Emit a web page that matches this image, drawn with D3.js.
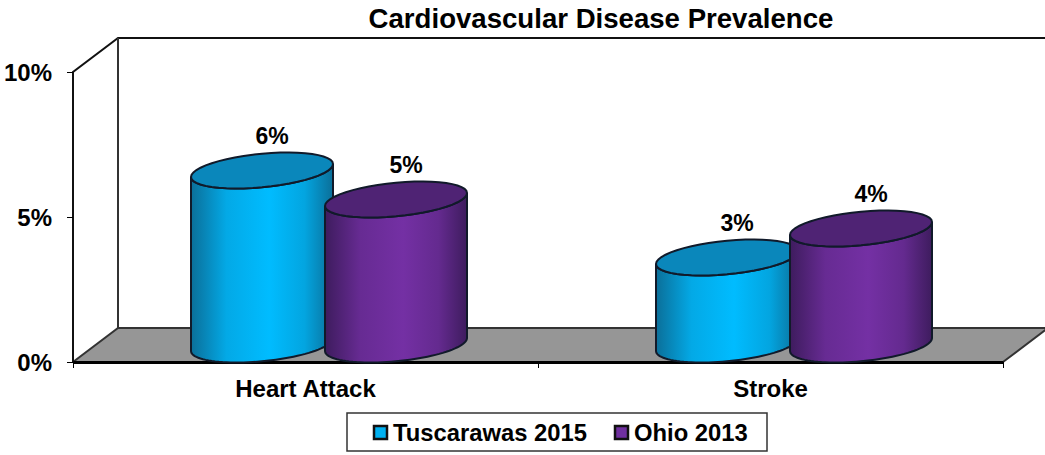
<!doctype html>
<html>

<head>
    <style>
        body { margin: 0; background: #fff; }
        text { font-family: "Liberation Sans", Arial, sans-serif; font-weight: bold; fill: #000; }
    </style>
    <script src="https://d3js.org/d3.v7.min.js"></script>
</head>

<body>
    <svg width="1045" height="455"></svg>
    <script>
        var categories = ["Heart Attack", "Stroke"];
        var seriesNames = ["Tuscarawas 2015", "Ohio 2013"];
        var tuscarawas = [6, 3];
        var ohio = [5, 4];
        var yTicks = [0, 5, 10];

        var seriesValues = [tuscarawas, ohio];
        var colors = [
            { edge: "#0b6f99", mid: "#00bcff", lid: "#0a87bb" },
            { edge: "#3e1c5e", mid: "#7430a4", lid: "#4f2374" }
        ];

        var svg = d3.select("svg");
        var plotLeft = 73, plotRight = 1003, plotBottom = 362, plotTop = 72;
        var depthX = 45, depthY = 34;   // oblique offset of the back wall

        var y = d3.scaleLinear().domain([0, 10]).range([plotBottom, plotTop]);
        var x = d3.scaleBand().domain(categories).range([plotLeft, plotRight]);
        var xEdges = d3.scaleLinear().domain([0, categories.length]).range([plotLeft, plotRight]);
        var xInner = d3.scaleBand().domain(seriesNames).range([-134, 134]);

        // gradients for the cylinder sides
        var defs = svg.append("defs");
        colors.forEach(function (c, i) {
            var grad = defs.append("linearGradient").attr("id", "side" + i);
            grad.append("stop").attr("offset", "0%").attr("stop-color", c.edge);
            grad.append("stop").attr("offset", "25%").attr("stop-color", d3.interpolateRgb(c.edge, c.mid)(0.75));
            grad.append("stop").attr("offset", "55%").attr("stop-color", c.mid);
            grad.append("stop").attr("offset", "80%").attr("stop-color", d3.interpolateRgb(c.edge, c.mid)(0.7));
            grad.append("stop").attr("offset", "100%").attr("stop-color", c.edge);
        });

        // floor
        svg.append("path")
            .attr("d", d3.line()([[plotLeft, plotBottom], [plotLeft + depthX, plotBottom - depthY], [plotRight + depthX, plotBottom - depthY], [plotRight, plotBottom]]))
            .attr("fill", "#969696")
            .attr("stroke", "#333")
            .attr("stroke-width", 2);

        // walls
        svg.append("path")
            .attr("d", d3.line()([[plotLeft, plotBottom], [plotLeft, plotTop], [plotLeft + depthX, plotTop - depthY], [plotRight + depthX, plotTop - depthY]]))
            .attr("fill", "none")
            .attr("stroke", "#111")
            .attr("stroke-width", 2);
        svg.append("line")
            .attr("x1", plotLeft + depthX).attr("x2", plotLeft + depthX)
            .attr("y1", plotTop - depthY).attr("y2", plotBottom - depthY)
            .attr("stroke", "#333")
            .attr("stroke-width", 2);

        // axes
        var yAxis = svg.append("g")
            .attr("transform", "translate(" + plotLeft + ",0)")
            .call(d3.axisLeft(y).tickValues(yTicks).tickSize(6).tickPadding(15).tickFormat(function (d) { return d + "%"; }));
        yAxis.select(".domain").remove();
        yAxis.selectAll("text").style("font-size", "24px").attr("dy", "0.36em");

        var xAxis = svg.append("g")
            .attr("transform", "translate(0," + plotBottom + ")")
            .call(d3.axisBottom(xEdges).tickValues(d3.range(categories.length + 1)).tickSizeInner(6).tickSizeOuter(0).tickFormat(""));
        xAxis.select(".domain").attr("stroke-width", 3);

        var xLabels = svg.append("g")
            .attr("transform", "translate(0," + plotBottom + ")")
            .call(d3.axisBottom(x).tickSize(0).tickPadding(18));
        xLabels.select(".domain").remove();
        xLabels.selectAll("text").style("font-size", "24px");

        // tilted ellipse outline, angle in radians
        var rx = 71, ryOut = 16.8, tilt = -6.5, midDrop = 17.5;
        function rim(cx, cy, a) {
            return [cx + rx * Math.cos(a), cy + ryOut * Math.sin(a) + tilt * Math.cos(a)];
        }
        function rimArc(cx, cy, a0, a1) {
            return d3.range(0, 49).map(function (k) { return rim(cx, cy, a0 + (a1 - a0) * k / 48); });
        }

        categories.forEach(function (cat, ci) {
            seriesNames.forEach(function (name, si) {
                var v = seriesValues[si][ci];
                var cx = x(cat) + x.bandwidth() / 2 + depthX / 2 + 1 + xInner(name) + xInner.bandwidth() / 2;
                var cyTop = y(v) - midDrop;
                var cyBase = y(0) - midDrop;

                // side: right end down, along the front of the base, left end up, front of the lid back
                var side = rimArc(cx, cyBase, 0, Math.PI).concat(rimArc(cx, cyTop, Math.PI, 0));
                svg.append("path")
                    .attr("d", d3.line()(side) + "Z")
                    .attr("fill", "url(#side" + si + ")")
                    .attr("stroke", "#111a2a")
                    .attr("stroke-width", 2);

                svg.append("path")
                    .attr("d", d3.line()(rimArc(cx, cyTop, 0, 2 * Math.PI)) + "Z")
                    .attr("fill", colors[si].lid)
                    .attr("stroke", "#111a2a")
                    .attr("stroke-width", 2);

                svg.append("text")
                    .attr("x", cx + 10)
                    .attr("y", cyTop - 27)
                    .attr("text-anchor", "middle")
                    .style("font-size", "23px")
                    .text(v + "%");
            });
        });

        // title
        svg.append("text")
            .attr("x", 601)
            .attr("y", 28)
            .attr("text-anchor", "middle")
            .style("font-size", "27.6px")
            .text("Cardiovascular Disease Prevalence");

        // legend
        svg.append("rect")
            .attr("x", 347).attr("y", 413).attr("width", 420).attr("height", 38)
            .attr("fill", "#fff").attr("stroke", "#333").attr("stroke-width", 1.5);
        var legendX = d3.scaleOrdinal().domain(seriesNames).range([374, 615]);
        seriesNames.forEach(function (name, si) {
            svg.append("rect")
                .attr("x", legendX(name)).attr("y", 426).attr("width", 13).attr("height", 13)
                .attr("fill", si ? "#7030a0" : "#00b0f0")
                .attr("stroke", "#111").attr("stroke-width", 2.5);
            svg.append("text")
                .attr("x", legendX(name) + 19).attr("y", 441)
                .style("font-size", "23.8px")
                .text(name);
        });
    </script>
</body>

</html>
